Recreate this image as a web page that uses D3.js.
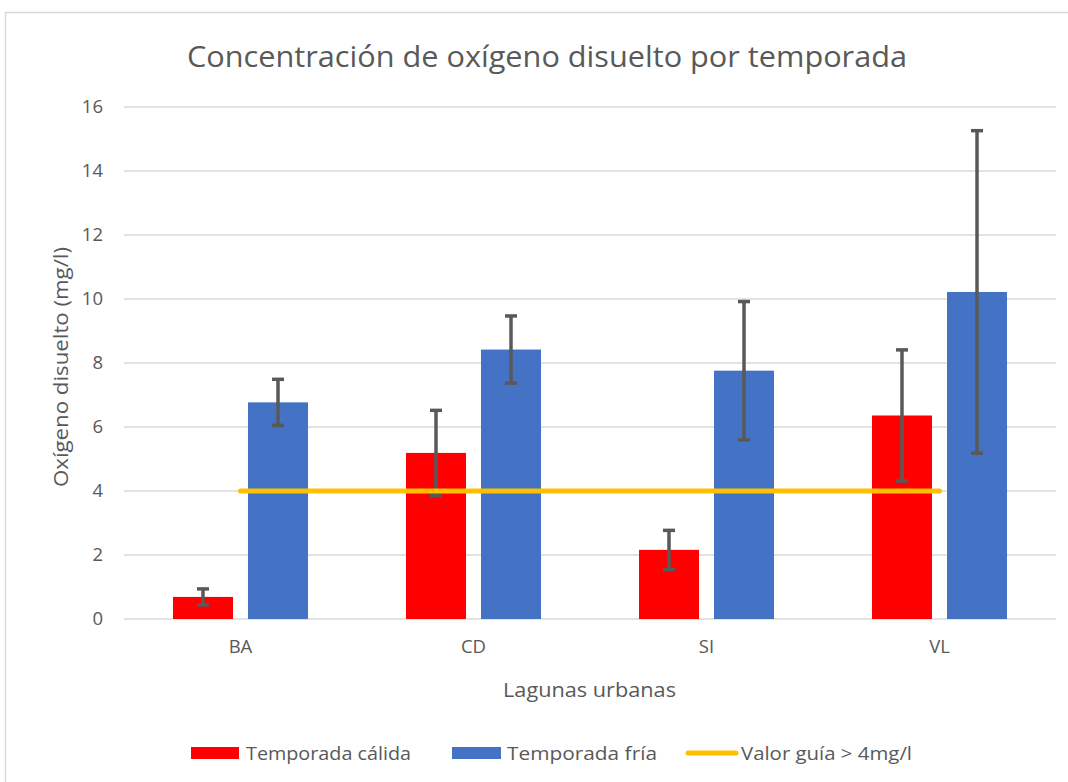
<!DOCTYPE html>
<html>
<head>
<meta charset="utf-8">
<script src="https://cdn.jsdelivr.net/npm/d3@7"></script>
<style>
  body { margin: 0; background: #fff; }
  text { font-family: "Open Sans", Lato, sans-serif; fill: #595959; }
</style>
</head>
<body>
<svg id="chart"></svg>
<script>
// Data.
const lagunas = ["BA", "CD", "SI", "VL"];
const series = ["Temporada cálida", "Temporada fría"];
const calida = [0.69, 5.19, 2.16, 6.36];
const calidaErr = [0.25, 1.33, 0.61, 2.05];
const fria = [6.77, 8.42, 7.76, 10.22];
const friaErr = [0.72, 1.05, 2.16, 5.04];
const guia = [4, 4, 4, 4];
const yTicks = [0, 2, 4, 6, 8, 10, 12, 14, 16];
const colors = ["#FF0000", "#4472C4"];

const W = 1068, H = 782;
const margin = { top: 107, right: 12, bottom: 163, left: 124 };
const width = W - margin.left - margin.right;
const height = H - margin.top - margin.bottom;

const svg = d3.select("#chart").attr("width", W).attr("height", H);

// chart area border
svg.append("rect")
    .attr("x", 5.5).attr("y", 12.5)
    .attr("width", 1080).attr("height", 800)
    .attr("fill", "#fff")
    .attr("stroke", "#D9D9D9")
    .attr("stroke-width", 1.5);

svg.append("text")
    .attr("x", 187).attr("y", 67)
    .attr("textLength", 720).attr("lengthAdjust", "spacingAndGlyphs")
    .style("font-size", "29px")
    .text("Concentración de oxígeno disuelto por temporada");

const g = svg.append("g")
    .attr("transform", "translate(" + margin.left + "," + margin.top + ")");

const x = d3.scaleBand().domain(lagunas).range([0, width]);
const xs = d3.scaleBand().domain(series).range([0, x.bandwidth()])
    .paddingInner(0.2).paddingOuter(0.653);
const y = d3.scaleLinear().domain([0, 16]).range([height, 0]);

// gridlines
g.append("g")
    .selectAll("line")
    .data(yTicks)
    .join("line")
    .attr("x1", 0).attr("x2", width)
    .attr("y1", d => y(d)).attr("y2", d => y(d))
    .attr("stroke", "#D9D9D9")
    .attr("stroke-width", 1.5);

// y axis labels
const yAxis = g.append("g").call(d3.axisLeft(y).tickValues(yTicks).tickSize(0).tickPadding(21));
yAxis.select(".domain").remove();
yAxis.selectAll("text").style("font-size", "18.5px").style("font-family", "'Open Sans', sans-serif").attr("fill", "#595959");

// x axis labels
const xAxis = g.append("g").attr("transform", "translate(0," + height + ")")
    .call(d3.axisBottom(x).tickSize(0).tickPadding(21));
xAxis.select(".domain").remove();
xAxis.selectAll("text").style("font-size", "18.5px").style("font-family", "'Open Sans', sans-serif").attr("fill", "#595959");

const table = lagunas.map((l, i) => ({
    laguna: l,
    vals: [
        { s: series[0], v: calida[i], e: calidaErr[i], c: colors[0] },
        { s: series[1], v: fria[i], e: friaErr[i], c: colors[1] }
    ]
}));

const groups = g.selectAll(".grp")
    .data(table)
    .join("g")
    .attr("class", "grp")
    .attr("transform", d => "translate(" + x(d.laguna) + ",0)");

groups.selectAll("rect")
    .data(d => d.vals)
    .join("rect")
    .attr("x", d => xs(d.s))
    .attr("width", xs.bandwidth())
    .attr("y", d => y(d.v))
    .attr("height", d => height - y(d.v))
    .attr("fill", d => d.c);

// error bars
const eb = groups.selectAll(".err")
    .data(d => d.vals)
    .join("g")
    .attr("class", "err")
    .attr("stroke", "#595959")
    .attr("stroke-width", 3.5);
eb.append("line")
    .attr("x1", d => xs(d.s) + xs.bandwidth() / 2)
    .attr("x2", d => xs(d.s) + xs.bandwidth() / 2)
    .attr("y1", d => y(d.v + d.e))
    .attr("y2", d => y(d.v - d.e));
eb.append("line")
    .attr("x1", d => xs(d.s) + xs.bandwidth() / 2 - 6)
    .attr("x2", d => xs(d.s) + xs.bandwidth() / 2 + 6)
    .attr("y1", d => y(d.v + d.e))
    .attr("y2", d => y(d.v + d.e));
eb.append("line")
    .attr("x1", d => xs(d.s) + xs.bandwidth() / 2 - 6)
    .attr("x2", d => xs(d.s) + xs.bandwidth() / 2 + 6)
    .attr("y1", d => y(d.v - d.e))
    .attr("y2", d => y(d.v - d.e));

// guide value line
const line = d3.line()
    .x((d, i) => x(lagunas[i]) + x.bandwidth() / 2)
    .y(d => y(d));
g.append("path")
    .datum(guia)
    .attr("d", line)
    .attr("fill", "none")
    .attr("stroke", "#FFC000")
    .attr("stroke-width", 5)
    .attr("stroke-linecap", "round");

// axis titles
svg.append("text")
    .attr("transform", "translate(68,487) rotate(-90)")
    .attr("textLength", 240).attr("lengthAdjust", "spacingAndGlyphs")
    .style("font-size", "19.5px")
    .text("Oxígeno disuelto (mg/l)");

svg.append("text")
    .attr("x", 503).attr("y", 697)
    .attr("textLength", 173).attr("lengthAdjust", "spacingAndGlyphs")
    .style("font-size", "19.5px")
    .text("Lagunas urbanas");

// legend
const legend = svg.append("g").attr("transform", "translate(0,753)");
legend.append("rect").attr("x", 191).attr("y", -6).attr("width", 48).attr("height", 12).attr("fill", colors[0]);
legend.append("text").attr("x", 246).attr("y", 7)
    .attr("textLength", 165).attr("lengthAdjust", "spacingAndGlyphs")
    .style("font-size", "19px").text(series[0]);
legend.append("rect").attr("x", 452).attr("y", -6).attr("width", 49).attr("height", 12).attr("fill", colors[1]);
legend.append("text").attr("x", 507).attr("y", 7)
    .attr("textLength", 150).attr("lengthAdjust", "spacingAndGlyphs")
    .style("font-size", "19px").text(series[1]);
legend.append("line").attr("x1", 688).attr("x2", 736).attr("y1", 0).attr("y2", 0)
    .attr("stroke", "#FFC000").attr("stroke-width", 5).attr("stroke-linecap", "round");
legend.append("text").attr("x", 741).attr("y", 7)
    .attr("textLength", 171).attr("lengthAdjust", "spacingAndGlyphs")
    .style("font-size", "19px").text("Valor guía > 4mg/l");
</script>
</body>
</html>
